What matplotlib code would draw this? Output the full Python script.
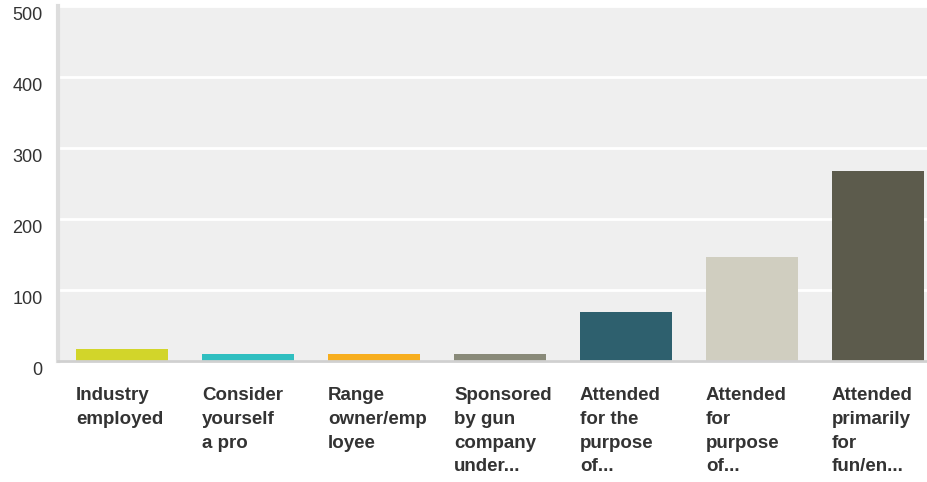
import matplotlib
matplotlib.use("Agg")
import matplotlib.pyplot as plt
from matplotlib.transforms import ScaledTranslation

categories = ["Industry\nemployed", "Consider\nyourself\na pro", "Range\nowner/emp\nloyee",
              "Sponsored\nby gun\ncompany\nunder...", "Attended\nfor the\npurpose\nof...",
              "Attended\nfor\npurpose\nof...", "Attended\nprimarily\nfor\nfun/en..."]
values = [16, 9, 9, 9, 68, 146, 267]
colors = ["#D2D52A", "#30BFC0", "#F7AE1F", "#898A79", "#2E606E", "#D0CEC0", "#5C5B4C"]
yticks = [0, 100, 200, 300, 400, 500]

plt.rcParams['font.family'] = ['Liberation Sans', 'DejaVu Sans']
fig = plt.figure(figsize=(9.28, 4.82), dpi=100)
ax = fig.add_axes([58/928, (482-360.5)/482, 870/928, 354.5/482])
ax.set_facecolor("#EFEFEF")
x = list(range(len(categories)))
ax.bar(x, values, width=0.73, color=colors, zorder=3)
ax.set_xlim(-0.508, 6.397)
ax.set_ylim(0, 500)
ax.set_yticks(yticks)
ax.set_yticklabels([str(t) for t in yticks], fontsize=13, color="#333333")
ax.yaxis.grid(True, color="white", linewidth=2, zorder=1)
ax.set_axisbelow(True)
ax.tick_params(axis='y', length=0, pad=11)
for lab in ax.get_yticklabels():
    lab.set_transform(lab.get_transform() + ScaledTranslation(0, -8/100, fig.dpi_scale_trans))
ax.set_xticks([])
for s in ["top", "right"]:
    ax.spines[s].set_visible(False)
ax.spines["left"].set_color("#DDDDDD")
ax.spines["left"].set_linewidth(3)
ax.spines["bottom"].set_color("#D0D0D0")
ax.spines["bottom"].set_linewidth(2)
ax.spines["bottom"].set_zorder(4)
trans = ax.get_xaxis_transform()
for xi, lab in zip(x, categories):
    ax.text(xi - 0.365, -0.075, lab, transform=trans, ha='left', va='top',
            fontsize=13.5, fontweight='bold', color="#333333", linespacing=1.52)
fig.savefig("out.png", dpi=100)
